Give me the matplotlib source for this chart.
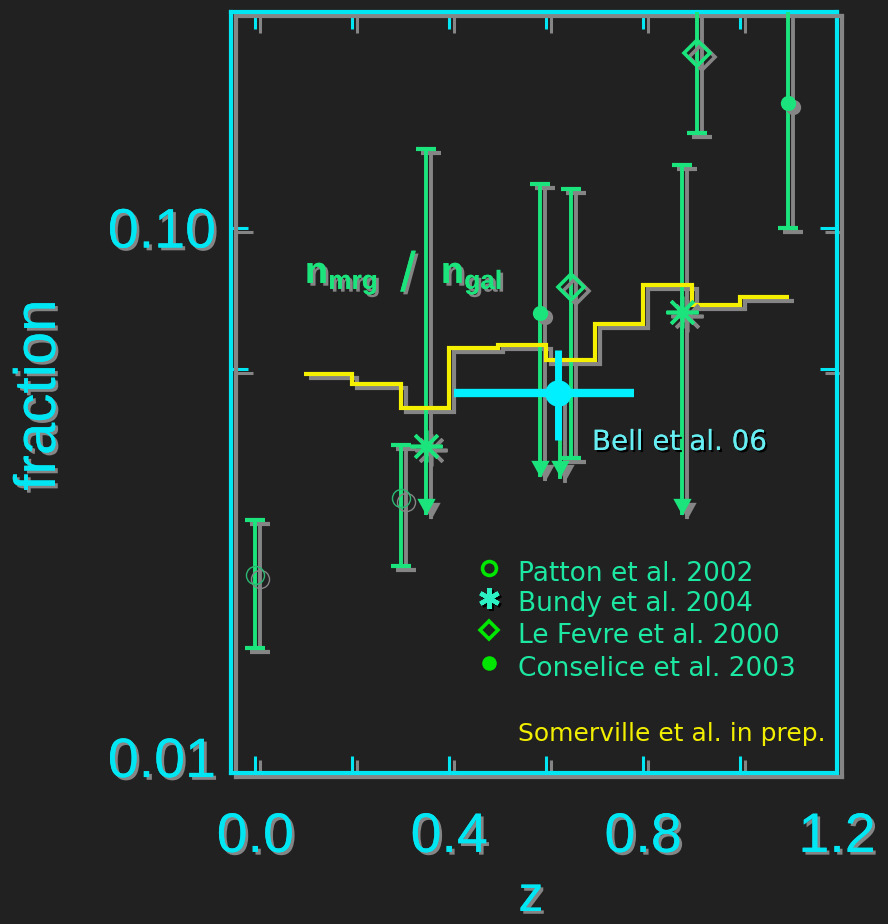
import matplotlib
matplotlib.use("Agg")
import matplotlib.pyplot as plt
import matplotlib.patheffects as pe
from matplotlib import transforms
from matplotlib.path import Path
from matplotlib.ticker import FixedLocator, NullFormatter

# merger fractions vs redshift, per survey (lo/hi = ends of the error bar)
patton_z = [0.0, 0.30]
patton_f = [0.0221, 0.0308]
patton_lo = [0.0161, 0.0230]
patton_hi = [0.0280, 0.0388]

bundy_z = [0.353, 0.880]
bundy_f = [0.0386, 0.0693]
bundy_lo = [0.0286, 0.0286]   # upper limits -> arrow tips
bundy_hi = [0.141, 0.131]

conselice_z = [0.587, 1.098]
conselice_f = [0.0690, 0.172]
conselice_lo = [0.0338, 0.100]
conselice_hi = [0.121, 0.40]
conselice_arrow = [True, False]

lefevre_z = [0.651, 0.911]
lefevre_f = [0.0773, 0.214]
lefevre_lo = [0.0367, 0.151]
lefevre_hi = [0.118, 0.40]

# lone upper-limit arrow partly hidden under the Bell point
limit_z = [0.629]
limit_top = [0.0487]
limit_tip = [0.0338]

# Somerville et al. model, n_mrg / n_gal in bins of dz = 0.1
som_edges = [0.1, 0.2, 0.3, 0.4, 0.5, 0.6, 0.7, 0.8, 0.9, 1.0, 1.1]
som_frac = [0.0529, 0.0506, 0.0456, 0.0592, 0.0600,
            0.0562, 0.0657, 0.0779, 0.0714, 0.0739]

# Bell et al. 06
bell_z, bell_zlo, bell_zhi = 0.625, 0.409, 0.781
bell_f, bell_flo, bell_fhi = 0.0487, 0.0397, 0.0587

legend_names = ["Patton et al. 2002", "Bundy et al. 2004",
                "Le Fevre et al. 2000", "Conselice et al. 2003"]

BG = "#212121"
CYAN = "#00e6f2"
GREEN = "#1ae47b"
SHADOW = "#858585"
FONT = "Liberation Sans"

W, H = 888, 924
fig = plt.figure(figsize=(W / 100, H / 100), dpi=100, facecolor=BG)
ax = fig.add_axes([231 / W, 1 - 773 / H, 606 / W, 761 / H], facecolor=BG)
ax.set_xlim(-0.05, 1.2)
ax.set_yscale("log")
ax.set_ylim(0.00933, 0.2553)

shadow_tr = transforms.offset_copy(ax.transData, fig=fig, x=5, y=-4, units="dots")
text_shadow = [pe.withSimplePatchShadow(offset=(2, -2), shadow_rgbFace=SHADOW, alpha=1),
               pe.Normal()]
line_shadow = [pe.SimpleLineShadow(offset=(3.6, -2.9), shadow_color=SHADOW, alpha=1),
               pe.Normal()]

# arrow head with its tip on the data point
ARROW = Path([(0, 0), (-0.55, 1), (0.55, 1), (0, 0)],
             [Path.MOVETO, Path.LINETO, Path.LINETO, Path.CLOSEPOLY])


def with_shadow(draw, *args, zorder=3, **kw):
    sk = dict(kw)
    for k in ("color", "markerfacecolor", "markeredgecolor"):
        if k in sk and sk[k] != "none":
            sk[k] = SHADOW
    draw(*args, transform=shadow_tr, zorder=zorder - 1, **sk)
    draw(*args, zorder=zorder, **kw)


def error_bar(z, lo, hi, arrow=False):
    with_shadow(ax.plot, [z, z], [lo, hi], color=GREEN, lw=2.8, solid_capstyle="butt")
    with_shadow(ax.plot, [z], [hi], ls="none", marker="_", ms=14, mew=3, color=GREEN)
    if arrow:
        with_shadow(ax.plot, [z], [lo], ls="none", marker=ARROW, ms=24, mew=0, color=GREEN)
    else:
        with_shadow(ax.plot, [z], [lo], ls="none", marker="_", ms=14, mew=3, color=GREEN)


# model curve
with_shadow(ax.stairs, som_frac, som_edges, baseline=None, color="#f5ef00", lw=3, zorder=4)

for z, lo, hi in zip(patton_z, patton_lo, patton_hi):
    error_bar(z, lo, hi)
for z, lo, hi in zip(bundy_z, bundy_lo, bundy_hi):
    error_bar(z, lo, hi, arrow=True)
for z, lo, hi, a in zip(conselice_z, conselice_lo, conselice_hi, conselice_arrow):
    error_bar(z, lo, hi, arrow=a)
for z, lo, hi in zip(lefevre_z, lefevre_lo, lefevre_hi):
    error_bar(z, lo, hi)
for z, top, tip in zip(limit_z, limit_top, limit_tip):
    with_shadow(ax.plot, [z, z], [top, tip], color=GREEN, lw=2.8)
    with_shadow(ax.plot, [z], [tip], ls="none", marker=ARROW, ms=24, mew=0, color=GREEN)

with_shadow(ax.plot, patton_z, patton_f, ls="none", marker="o", ms=13,
            markerfacecolor="none", markeredgecolor="#2cb873", mew=1.0, zorder=5)
with_shadow(ax.plot, bundy_z, bundy_f, ls="none", marker=(8, 2, 0), ms=23,
            mew=2.6, color=GREEN, zorder=5)
with_shadow(ax.plot, conselice_z, conselice_f, ls="none", marker="o", ms=11,
            color=GREEN, mew=0, zorder=5)
with_shadow(ax.plot, lefevre_z, lefevre_f, ls="none", marker="D", ms=13.5,
            markerfacecolor="none", markeredgecolor=GREEN, mew=2.6, zorder=5)

# Bell et al. 06 point (no drop shadow)
ax.plot([bell_zlo, bell_zhi], [bell_f, bell_f], color="#00f0ff", lw=6,
        solid_capstyle="butt", zorder=7)
ax.plot([bell_z, bell_z], [bell_flo, bell_fhi], color="#00f0ff", lw=5,
        solid_capstyle="butt", zorder=7)
ax.plot([bell_z], [bell_f], "o", color="#00f0ff", ms=19, mew=0, zorder=7)

# axes frame and ticks
for sp in ax.spines.values():
    sp.set_color(CYAN)
    sp.set_linewidth(3)
    sp.set_path_effects(line_shadow)
ax.set_xticks([0.0, 0.4, 0.8, 1.2], ["0.0", "0.4", "0.8", "1.2"])
ax.xaxis.set_minor_locator(FixedLocator([0.2, 0.6, 1.0]))
ax.xaxis.set_minor_formatter(NullFormatter())
ax.set_yticks([0.01, 0.1], ["0.01", "0.10"])
ax.yaxis.set_minor_locator(FixedLocator([0.054]))
ax.yaxis.set_minor_formatter(NullFormatter())
ax.tick_params(which="both", direction="in", top=True, right=True,
               length=12, width=2.2, color=CYAN)
ax.tick_params(axis="x", which="major", pad=28)
ax.tick_params(axis="y", which="major", pad=11)
t0 = ax.yaxis.get_major_ticks()[0]
t0.tick1line.set_visible(False)
t0.tick2line.set_visible(False)
for lab in ax.get_xticklabels() + ax.get_yticklabels():
    lab.set_fontfamily(FONT)
    lab.set_fontsize(40)
    lab.set_color(CYAN)
    lab.set_path_effects(text_shadow)
for tl in (ax.xaxis.get_ticklines() + ax.xaxis.get_ticklines(minor=True)
           + ax.yaxis.get_ticklines() + ax.yaxis.get_ticklines(minor=True)):
    tl.set_path_effects(line_shadow)

# overlay in pixel coordinates for labels and the key
ov = fig.add_axes([0, 0, 1, 1], facecolor="none")
ov.set_xlim(0, W)
ov.set_ylim(H, 0)
ov.axis("off")

ov.text(40, 395, "fraction", rotation=90, ha="center", va="center",
        fontsize=42, family=FONT, color=CYAN, path_effects=text_shadow)
ov.text(531, 911, "z", ha="center", va="baseline", fontsize=36,
        family=FONT, color=CYAN, path_effects=text_shadow)

# n_mrg / n_gal label for the model curve
ov.text(305, 283, r"$\mathregular{n_{mrg}}$", ha="left", va="baseline",
        fontsize=27, family=FONT, weight="bold", color=GREEN,
        path_effects=text_shadow)
ov.text(408, 291, "/", ha="center", va="baseline", fontsize=40,
        family=FONT, color=GREEN, path_effects=text_shadow)
ov.text(441, 283, r"$\mathregular{n_{gal}}$", ha="left", va="baseline",
        fontsize=27, family=FONT, weight="bold", color=GREEN,
        path_effects=text_shadow)

ov.text(592, 450, "Bell et al. 06", ha="left", va="baseline", fontsize=20,
        family="DejaVu Sans", color="#66eef2",
        path_effects=[pe.withSimplePatchShadow(offset=(1.5, -1.5),
                                                shadow_rgbFace="black", alpha=1),
                      pe.Normal()])

key_y = [568, 598, 630, 663]
LEG_TEXT = "#1ce8a2"
for name, y in zip(legend_names, key_y):
    ov.text(518, y + 13, name, ha="left", va="baseline", fontsize=19,
            family="DejaVu Sans", color=LEG_TEXT)
ov.plot([489], [key_y[0]], "o", ms=10, mfc="none", mec="#00e600", mew=2.6)
ov.plot([491], [key_y[1] + 2], ls="none", marker=(6, 2, 0), ms=15, mew=3.2, color="black")
ov.plot([489], [key_y[1]], ls="none", marker=(6, 2, 0), ms=15, mew=3.2, color="#2cf0c4")
ov.plot([489], [key_y[2]], "D", ms=9.5, mfc="none", mec="#00e600", mew=2.6)
ov.plot([489], [key_y[3]], "o", ms=10.5, color="#00e600", mew=0)
ov.text(518, 741, "Somerville et al. in prep.", ha="left", va="baseline",
        fontsize=18, family="DejaVu Sans", color="#f2ee00")

fig.savefig("out.png", dpi=100, facecolor=BG)
